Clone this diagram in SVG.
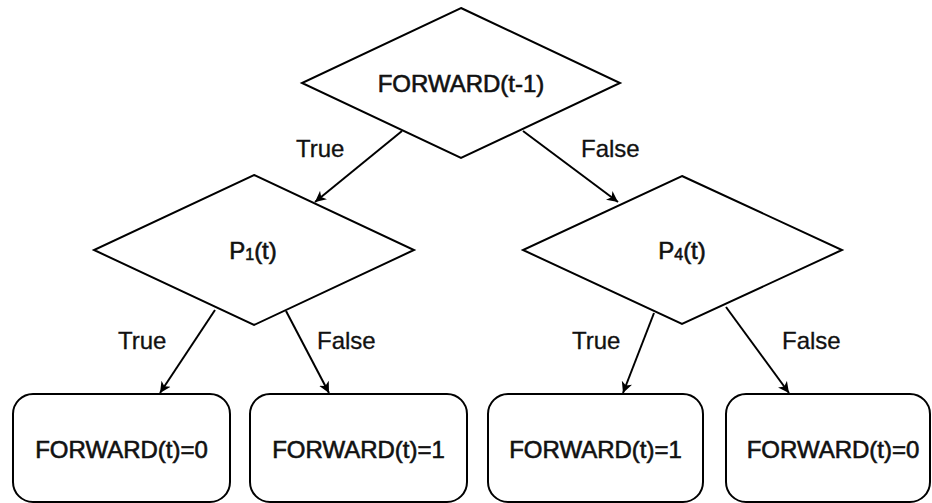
<svg xmlns="http://www.w3.org/2000/svg" width="932" height="503" viewBox="0 0 932 503">
  <style>
    .shape { fill: #ffffff; stroke: #000000; stroke-width: 2; }
    .edge { fill: none; stroke: #000000; stroke-width: 2; }
    .label { font-family: "Liberation Sans", Arial, sans-serif; font-size: 24px; fill: #111111; stroke: #111111; stroke-width: 0.3; }
    .node-text { stroke-width: 0.6; }
    .mid { text-anchor: middle; }
    .sub { font-size: 16px; }
  </style>
  <defs>
    <marker id="arrow" viewBox="0 0 12 12" refX="11" refY="6" markerWidth="12" markerHeight="12" markerUnits="userSpaceOnUse" orient="auto">
      <path d="M0,0.5 L11,6 L0,11.5 L3,6 Z" fill="#000000"/>
    </marker>
  </defs>
  <rect width="932" height="503" fill="#ffffff"/>

  <!-- connectors -->
  <g id="connectors">
    <line class="edge" x1="402" y1="131" x2="315" y2="202" marker-end="url(#arrow)"/>
    <line class="edge" x1="523" y1="131" x2="618" y2="202" marker-end="url(#arrow)"/>
    <line class="edge" x1="215" y1="310" x2="160" y2="393" marker-end="url(#arrow)"/>
    <line class="edge" x1="286" y1="311" x2="329" y2="393" marker-end="url(#arrow)"/>
    <line class="edge" x1="654" y1="313" x2="623" y2="393" marker-end="url(#arrow)"/>
    <line class="edge" x1="726" y1="307" x2="789" y2="393" marker-end="url(#arrow)"/>
    <text class="label" x="296" y="157">True</text>
    <text class="label" x="581" y="157">False</text>
    <text class="label" x="118" y="349">True</text>
    <text class="label" x="317" y="349">False</text>
    <text class="label" x="572" y="349">True</text>
    <text class="label" x="782" y="349">False</text>
  </g>

  <!-- decision nodes -->
  <g id="forward-prev">
    <polygon class="shape" points="461,8 620,83 461,158 302,83"/>
    <text class="label node-text mid" x="461" y="92">FORWARD(t-1)</text>
  </g>
  <g id="p1">
    <polygon class="shape" points="254,175 414,250 254,325 94,250"/>
    <text class="label node-text mid" x="253" y="259">P<tspan class="sub" dy="1">1</tspan><tspan dy="-1">(t)</tspan></text>
  </g>
  <g id="p4">
    <polygon class="shape" points="682,176 842,250 682,324 523,250"/>
    <text class="label node-text mid" x="682" y="259">P<tspan class="sub" dy="1">4</tspan><tspan dy="-1">(t)</tspan></text>
  </g>

  <!-- outcome nodes -->
  <g id="out-1">
    <rect class="shape" x="13" y="394" width="217" height="108" rx="20" ry="20"/>
    <text class="label node-text mid" x="121.5" y="458">FORWARD(t)=0</text>
  </g>
  <g id="out-2">
    <rect class="shape" x="250" y="394" width="217" height="108" rx="20" ry="20"/>
    <text class="label node-text mid" x="358.5" y="458">FORWARD(t)=1</text>
  </g>
  <g id="out-3">
    <rect class="shape" x="488" y="394" width="215" height="108" rx="20" ry="20"/>
    <text class="label node-text mid" x="595.5" y="458">FORWARD(t)=1</text>
  </g>
  <g id="out-4">
    <rect class="shape" x="726" y="394" width="204" height="108" rx="20" ry="20"/>
    <text class="label node-text mid" x="833" y="458">FORWARD(t)=0</text>
  </g>
</svg>
